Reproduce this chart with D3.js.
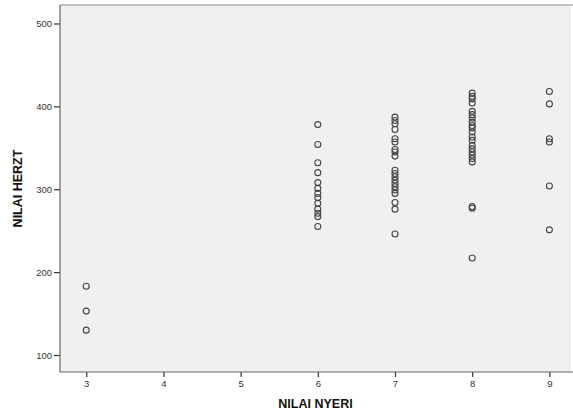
<!DOCTYPE html>
<html>
<head>
<meta charset="utf-8">
<script src="https://cdn.jsdelivr.net/npm/d3@7"></script>
<style>
  html, body { margin: 0; padding: 0; background: #ffffff; }
  svg { display: block; }
</style>
</head>
<body>
<div id="chart"></div>
<script>
// ---- data ----
const nyeri3 = [183, 153, 130];
const nyeri6 = [378, 354, 332, 320, 308, 301, 295, 290, 283, 276, 271, 267, 255];
const nyeri7 = [387, 383, 379, 372, 361, 357, 348, 345, 340, 323, 319, 315, 311, 307, 303, 299, 295, 284, 276, 246];
const nyeri8 = [416, 412, 409, 404, 394, 390, 386, 381, 377, 374, 369, 363, 359, 353, 349, 345, 341, 337, 333, 279, 277, 217];
const nyeri9 = [418, 403, 361, 357, 304, 251];
const groupX = [3, 6, 7, 8, 9];
const groupY = [nyeri3, nyeri6, nyeri7, nyeri8, nyeri9];
const xTicks = [3, 4, 5, 6, 7, 8, 9];
const yTicks = [100, 200, 300, 400, 500];
const xTitle = "NILAI NYERI";
const yTitle = "NILAI HERZT";

const points = [];
groupX.forEach((gx, i) => groupY[i].forEach(v => points.push({x: gx, y: v})));

// ---- layout ----
const W = 573, H = 412;
const plot = {left: 60, right: 571, top: 5, bottom: 372};

const x = d3.scaleLinear().domain([2.66, 9.28]).range([plot.left, plot.right]);
const y = d3.scaleLinear().domain([79.5, 522.3]).range([plot.bottom, plot.top]);

const svg = d3.select("#chart").append("svg").attr("width", W).attr("height", H);

svg.append("rect")
  .attr("x", plot.left).attr("y", plot.top)
  .attr("width", plot.right - plot.left).attr("height", plot.bottom - plot.top)
  .attr("fill", "#f0f0f0");

// axes
const xAxis = svg.append("g")
  .attr("transform", `translate(0,${plot.bottom})`)
  .call(d3.axisBottom(x).tickValues(xTicks).tickSize(5).tickSizeOuter(0).tickFormat(d3.format("d")));
const yAxis = svg.append("g")
  .attr("transform", `translate(${plot.left},0)`)
  .call(d3.axisLeft(y).tickValues(yTicks).tickSize(6).tickSizeOuter(0).tickFormat(d3.format("d")));

[xAxis, yAxis].forEach(g => {
  g.select(".domain").remove();
  g.selectAll(".tick line").attr("stroke", "#333").attr("stroke-width", 1.2);
  g.selectAll(".tick text")
    .attr("fill", "#333")
    .style("font-family", "Arial, 'Liberation Sans', sans-serif")
    .style("font-size", "9.5px");
});
xAxis.selectAll(".tick text").attr("dy", "0.71em").attr("y", 8);
yAxis.selectAll(".tick text").attr("x", -8);

// left & bottom frame lines
svg.append("line")
  .attr("x1", plot.left).attr("x2", plot.left)
  .attr("y1", plot.top).attr("y2", plot.bottom)
  .attr("stroke", "#666").attr("stroke-width", 1.2);
svg.append("line")
  .attr("x1", plot.left).attr("x2", plot.right + 2)
  .attr("y1", plot.bottom).attr("y2", plot.bottom)
  .attr("stroke", "#666").attr("stroke-width", 1.2);
svg.append("line")
  .attr("x1", plot.left).attr("x2", plot.right + 2)
  .attr("y1", plot.top).attr("y2", plot.top)
  .attr("stroke", "#888").attr("stroke-width", 1);

// points
svg.append("g").selectAll("circle").data(points).join("circle")
  .attr("cx", d => x(d.x))
  .attr("cy", d => y(d.y))
  .attr("r", 3)
  .attr("fill", "none")
  .attr("stroke", "#444")
  .attr("stroke-width", 1.1);

// titles
svg.append("text")
  .attr("x", (plot.left + plot.right) / 2)
  .attr("y", 408)
  .attr("text-anchor", "middle")
  .style("font-family", "Arial, 'Liberation Sans', sans-serif")
  .style("font-weight", "bold")
  .style("font-size", "12.5px")
  .attr("fill", "#111")
  .text(xTitle);

svg.append("text")
  .attr("transform", `translate(22,${(plot.top + plot.bottom) / 2}) rotate(-90)`)
  .attr("text-anchor", "middle")
  .style("font-family", "Arial, 'Liberation Sans', sans-serif")
  .style("font-weight", "bold")
  .style("font-size", "12.5px")
  .attr("fill", "#111")
  .text(yTitle);
</script>
</body>
</html>
